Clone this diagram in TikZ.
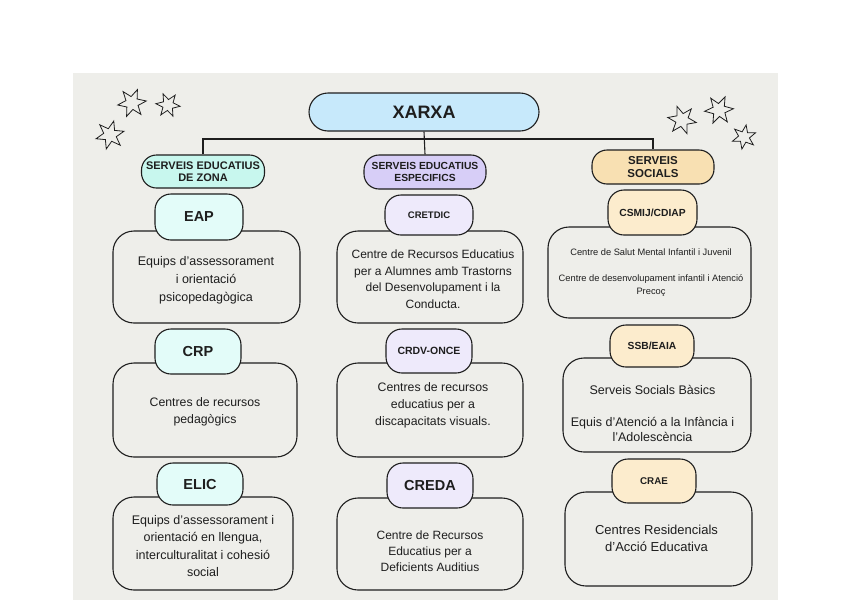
\documentclass[tikz,border=0pt]{standalone}
\usepackage{fontspec}
\setmainfont{Liberation Sans}
\usetikzlibrary{shapes.geometric}
\definecolor{panel}{HTML}{EEEEEA}
\definecolor{xarxafill}{HTML}{C7E9FB}
\definecolor{catA}{HTML}{C8F7EE}
\definecolor{catB}{HTML}{D7CEF7}
\definecolor{catC}{HTML}{F8E0B2}
\definecolor{tabA}{HTML}{E3FCF9}
\definecolor{tabB}{HTML}{EEEAFB}
\definecolor{tabC}{HTML}{FCECCD}
\definecolor{ink}{HTML}{1E1E1E}
\newcommand{\fs}[2]{\fontsize{#1}{#2}\selectfont}
\tikzset{
  outline/.style={draw=ink, line width=1.1pt},
  bodybox/.style={outline, fill=panel, rounded corners=21pt, inner sep=0pt},
  tabbox/.style={outline, rounded corners=16pt, inner sep=0pt, font=\bfseries, text=ink},
  catbox/.style={outline, rounded corners=15pt, inner sep=0pt, align=center, font=\bfseries, text=ink},
  bodytext/.style={align=center, text=ink, inner sep=0pt},
  starry/.style={star, star points=6, star point ratio=0.45, draw=ink, line width=0.8pt, inner sep=0pt},
  link/.style={draw=ink, line width=1.1pt},
}
\begin{document}
\begin{tikzpicture}[x=1pt,y=-1pt]
\useasboundingbox (0,0) rectangle (848,600);
\fill[panel] (73,73) rectangle (778,600);

% stars
\node[starry, minimum size=13, rotate=8] (s1) at (132,103) {};
\node[starry, minimum size=11, rotate=-6] (s2) at (168,105) {};
\node[starry, minimum size=13, rotate=15] (s3) at (110,135) {};
\node[starry, minimum size=13, rotate=-10] (s4) at (682,120) {};
\node[starry, minimum size=13, rotate=5] (s5) at (719,110) {};
\node[starry, minimum size=11, rotate=20] (s6) at (744,137) {};

% top
\node[outline, fill=xarxafill, rounded corners=19pt, minimum width=230, minimum height=38, font=\bfseries\fs{18}{20}, text=ink] (xarxa) at (424,112) {XARXA};

\node[catbox, fill=catA, minimum width=123, minimum height=33, font=\bfseries\fs{11}{12.5}] (catz) at (203,171.5) {SERVEIS EDUCATIUS\\DE ZONA};
\node[catbox, fill=catB, minimum width=122, minimum height=34, font=\bfseries\fs{10.3}{12}] (cate) at (425,172) {SERVEIS EDUCATIUS\\ESPECIFICS};
\node[catbox, fill=catC, minimum width=122, minimum height=34, font=\bfseries\fs{11.5}{13.5}] (cats) at (653,167) {SERVEIS\\SOCIALS};

\coordinate (hub) at (424,139);
\draw[link] (catz.north) |- (hub) -| (cats.north);
\draw[link] (xarxa.south) -- (cate.north);

% bodies
\node[bodybox, minimum width=187, minimum height=92] (eapB) at (206.5,277) {};
\node[bodybox, minimum width=184, minimum height=94] (crpB) at (205,410) {};
\node[bodybox, minimum width=180, minimum height=93] (elicB) at (203,543.5) {};
\node[bodybox, minimum width=186, minimum height=92] (cretB) at (430,277) {};
\node[bodybox, minimum width=186, minimum height=94] (crdvB) at (430,410) {};
\node[bodybox, minimum width=186, minimum height=92] (credaB) at (430,544) {};
\node[bodybox, minimum width=203, minimum height=91] (csmB) at (649.5,272.5) {};
\node[bodybox, minimum width=188, minimum height=94] (ssbB) at (657,405) {};
\node[bodybox, minimum width=187, minimum height=94] (craeB) at (658.5,539) {};

% body texts
\node[bodytext, font=\fs{12.5}{18}] (eapT) at (206,280) {Equips d’assessorament\\i orientació\\psicopedagògica};
\node[bodytext, font=\fs{12.3}{17}] (crpT) at (205,412) {Centres de recursos\\pedagògics};
\node[bodytext, font=\fs{12.5}{17.5}] (elicT) at (203,546) {Equips d’assessorament i\\orientació en llengua,\\interculturalitat i cohesió\\social};
\node[bodytext, font=\fs{12}{16.5}] (cretT) at (433,279) {Centre de Recursos Educatius\\per a Alumnes amb Trastorns\\del Desenvolupament i la\\Conducta.};
\node[bodytext, font=\fs{12.3}{17}] (crdvT) at (433,405) {Centres de recursos\\educatius per a\\discapacitats visuals.};
\node[bodytext, font=\fs{12}{16}] (credaT) at (430,551) {Centre de Recursos\\Educatius per a\\Deficients Auditius};
\node[bodytext, font=\fs{9.3}{13}] (csmT) at (651,272.5) {Centre de Salut Mental Infantil i Juvenil\\[13pt]Centre de desenvolupament infantil i Atenció\\Precoç};
\node[bodytext, font=\fs{12.5}{15.5}] (ssbT) at (652.5,413.5) {Serveis Socials Bàsics\\[16pt]Equis d’Atenció a la Infància i\\l’Adolescència};
\node[bodytext, font=\fs{13}{17}] (craeT) at (656.5,538.5) {Centres Residencials\\d’Acció Educativa};

% tabs
\node[tabbox, fill=tabA, minimum width=88, minimum height=46, font=\bfseries\fs{14.5}{16}] (eap) at (199,217) {EAP};
\node[tabbox, fill=tabA, minimum width=86, minimum height=45, font=\bfseries\fs{14.5}{16}] (crp) at (198,351.5) {CRP};
\node[tabbox, fill=tabA, minimum width=86, minimum height=42, font=\bfseries\fs{14.5}{16}] (elic) at (200,484) {ELIC};
\node[tabbox, fill=tabB, minimum width=88, minimum height=40, font=\bfseries\fs{9.5}{11}] (cret) at (429,215) {CRETDIC};
\node[tabbox, fill=tabB, minimum width=86, minimum height=44, font=\bfseries\fs{10.5}{12}] (crdv) at (429,351) {CRDV-ONCE};
\node[tabbox, fill=tabB, minimum width=86, minimum height=45, font=\bfseries\fs{14.5}{16}] (creda) at (430,485.5) {CREDA};
\node[tabbox, fill=tabC, minimum width=89, minimum height=45, font=\bfseries\fs{10.3}{12}] (csm) at (652.5,212.5) {CSMIJ/CDIAP};
\node[tabbox, fill=tabC, minimum width=84, minimum height=42, font=\bfseries\fs{10.3}{12}] (ssb) at (652,346) {SSB/EAIA};
\node[tabbox, fill=tabC, minimum width=84, minimum height=44, font=\bfseries\fs{9.8}{11}] (crae) at (654,481) {CRAE};
\end{tikzpicture}
\end{document}
